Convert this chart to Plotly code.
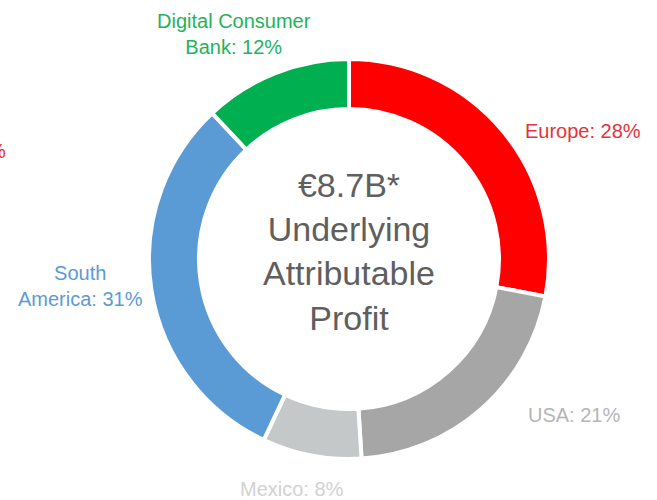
import plotly.graph_objects as go

segments = ["Europe", "USA", "Mexico", "South America", "Digital Consumer Bank"]
shares = [28, 21, 8, 31, 12]
label_texts = ["Europe: 28%", "USA: 21%", "Mexico: 8%", "South<br>America: 31%", "Digital Consumer<br>Bank: 12%"]
center_text = "€8.7B*<br>Underlying<br>Attributable<br>Profit"

slice_colors = ["#ff0000", "#a6a6a6", "#c5c8c8", "#5b9bd5", "#00b050"]
text_colors = ["#e5323b", "#b5b5b5", "#d2d2d2", "#5b9bd5", "#1fb35a"]
label_pos = [(583, 131), (574, 415), (292, 489), (80, 286), (234, 34)]

W, H = 657, 500
cx, cy, r = 349, 259, 200
FONT = "Liberation Sans, Arial, sans-serif"

fig = go.Figure(go.Pie(
    labels=segments, values=shares, hole=0.75, sort=False, direction="clockwise",
    rotation=0, textinfo="none", hoverinfo="label+percent",
    marker=dict(colors=slice_colors, line=dict(color="white", width=4)),
    domain=dict(x=[(cx - r) / W, (cx + r) / W], y=[(H - cy - r) / H, (H - cy + r) / H]),
    showlegend=False,
))

annotations = [dict(x=cx / W, y=(H - 251) / H, xref="paper", yref="paper",
                    xanchor="center", yanchor="middle",
                    text=center_text, showarrow=False,
                    font=dict(family=FONT, size=34, color="#5f5f5f"), align="center")]
for t, c, (px, py) in zip(label_texts, text_colors, label_pos):
    annotations.append(dict(x=px / W, y=(H - py) / H, xref="paper", yref="paper",
                            xanchor="center", yanchor="middle",
                            text=t, showarrow=False, align="center",
                            font=dict(family=FONT, size=20, color=c)))
# clipped fragment at the left edge, as in the reference
annotations.append(dict(x=8 / W, y=(H - 151) / H, xref="paper", yref="paper", text="%",
                        showarrow=False, xanchor="right", yanchor="middle",
                        font=dict(family=FONT, size=20, color="#e5323b")))

fig.update_layout(width=W, height=H, margin=dict(l=0, r=0, t=0, b=0),
                  paper_bgcolor="white", plot_bgcolor="white", annotations=annotations)
fig.write_html("out.html", config={"displayModeBar": False},
               post_script="document.body.style.margin='0';")
